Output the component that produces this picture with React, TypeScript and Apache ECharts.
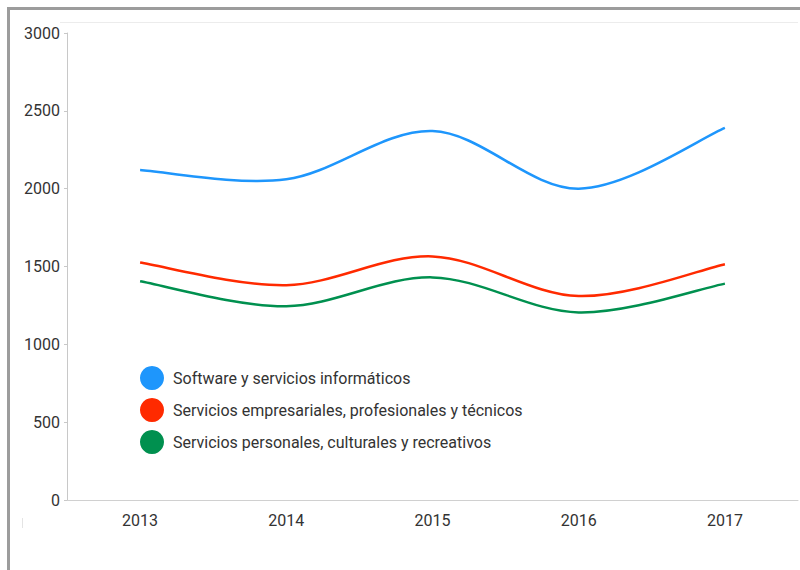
import React, { useEffect, useRef } from "react";
import * as echarts from "echarts";

const years = ["2013", "2014", "2015", "2016", "2017"];
const software = [2120, 2060, 2370, 2000, 2390];
const empresariales = [1525, 1380, 1565, 1310, 1515];
const personales = [1405, 1245, 1430, 1205, 1390];
const seriesNames = [
  "Software y servicios informáticos",
  "Servicios empresariales, profesionales y técnicos",
  "Servicios personales, culturales y recreativos",
];
const colors = ["#1E96FC", "#FF2A00", "#00904F"];

function catmullPath(pts: number[][]): string {
  let d = `M${pts[0][0]},${pts[0][1]}`;
  for (let i = 0; i < pts.length - 1; i++) {
    const p0 = pts[Math.max(0, i - 1)];
    const p1 = pts[i];
    const p2 = pts[i + 1];
    const p3 = pts[Math.min(pts.length - 1, i + 2)];
    const c1x = p1[0] + (p2[0] - p0[0]) / 6;
    const c1y = p1[1] + (p2[1] - p0[1]) / 6;
    const c2x = p2[0] - (p3[0] - p1[0]) / 6;
    const c2y = p2[1] - (p3[1] - p1[1]) / 6;
    d += ` C${c1x},${c1y} ${c2x},${c2y} ${p2[0]},${p2[1]}`;
  }
  return d;
}

export default function App() {
  const ref = useRef<HTMLDivElement>(null);
  useEffect(() => {
    if (!ref.current) return;
    const chart = echarts.init(ref.current, null, { renderer: "svg" });
    const dataSets = [software, empresariales, personales];
    chart.setOption({
      animation: false,
      backgroundColor: "#fff",
      textStyle: { fontFamily: "Roboto" },
      grid: { left: 67, right: 2, top: 33, bottom: 70 },
      legend: {
        orient: "vertical",
        left: 135,
        top: 361,
        itemWidth: 32,
        itemHeight: 24,
        itemGap: 8,
        icon: "circle",
        textStyle: { fontSize: 16, color: "#333", fontFamily: "Roboto" },
        data: seriesNames,
      },
      xAxis: {
        type: "category",
        data: years,
        boundaryGap: true,
        axisLine: { lineStyle: { color: "#d0d0d0" } },
        axisTick: { show: false },
        axisLabel: { fontSize: 16, color: "#333", margin: 12 },
      },
      yAxis: {
        type: "value",
        min: 0,
        max: 3000,
        interval: 500,
        axisLine: { show: true, lineStyle: { color: "#c8c8c8" } },
        axisTick: { show: true, length: 3, lineStyle: { color: "#c8c8c8" } },
        splitLine: { show: false },
        axisLabel: { fontSize: 16, color: "#333", margin: 7, formatter: (v: number) => String(v) },
      },
      graphic: [
        { type: "rect", shape: { x: 7, y: 7, width: 3, height: 570 }, style: { fill: "#9c9c9c" } },
        { type: "rect", shape: { x: 7, y: 7, width: 800, height: 3 }, style: { fill: "#9c9c9c" } },
        { type: "line", shape: { x1: 60, y1: 22.5, x2: 798, y2: 22.5 }, style: { stroke: "#ececec", lineWidth: 1 } },
        { type: "line", shape: { x1: 22.5, y1: 518, x2: 22.5, y2: 528 }, style: { stroke: "#e4e4e4", lineWidth: 1 } },
      ],
      series: seriesNames.map((name, i) => ({
        name,
        type: "custom",
        coordinateSystem: "cartesian2d",
        encode: { x: 0, y: 1 },
        data: dataSets[i].map((v, j) => [j, v]),
        itemStyle: { color: colors[i] },
        renderItem: (params: any, api: any) => {
          if (params.dataIndex !== 0) return null;
          const pts = dataSets[i].map((v, j) => api.coord([j, v]));
          return {
            type: "path",
            shape: { pathData: catmullPath(pts) },
            style: { fill: "none", stroke: colors[i], lineWidth: 2.5 },
          };
        },
      })),
    });
    return () => chart.dispose();
  }, []);
  return (
    <div
      ref={ref}
      style={{ position: "fixed", left: 0, top: 0, width: 800, height: 570 }}
    />
  );
}
